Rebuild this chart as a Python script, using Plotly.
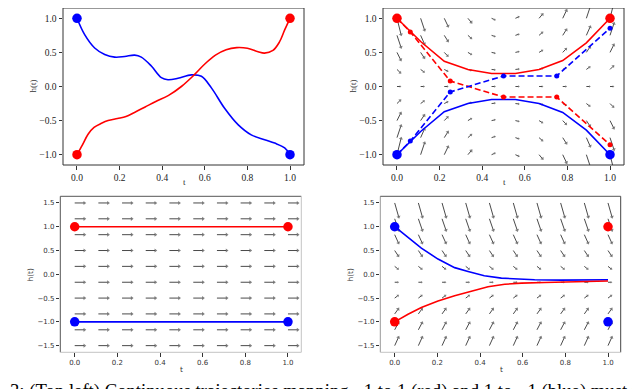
import math
import plotly.graph_objects as go

W, H = 640, 389

# ---------------- data ----------------
# Top left: continuous trajectories
tl_red_t = [0.0, 0.025, 0.052, 0.08, 0.115, 0.146, 0.19, 0.23, 0.27, 0.32, 0.37, 0.43, 0.49,
            0.55, 0.60, 0.65, 0.70, 0.75, 0.80, 0.85, 0.88, 0.92, 0.95, 0.975, 1.0]
tl_red_h = [-1.0, -0.86, -0.70, -0.60, -0.54, -0.50, -0.47, -0.44, -0.38, -0.30, -0.22, -0.13, 0.0,
            0.17, 0.33, 0.46, 0.54, 0.57, 0.56, 0.51, 0.49, 0.53, 0.65, 0.83, 1.0]
tl_blue_t = [0.0, 0.036, 0.083, 0.13, 0.177, 0.224, 0.271, 0.302, 0.349, 0.396, 0.427, 0.474,
             0.537, 0.584, 0.631, 0.693, 0.756, 0.818, 0.881, 0.928, 0.975, 1.0]
tl_blue_h = [1.0, 0.76, 0.565, 0.47, 0.43, 0.44, 0.46, 0.43, 0.30, 0.13, 0.10, 0.12,
             0.17, 0.15, -0.02, -0.32, -0.56, -0.71, -0.78, -0.83, -0.90, -1.0]

# Top right: discretised trajectories + vector field
tr_t = [0.0, 0.111, 0.222, 0.333, 0.444, 0.556, 0.667, 0.778, 0.889, 1.0]
tr_red_solid = [1.0, 0.66, 0.37, 0.25, 0.19, 0.19, 0.25, 0.38, 0.64, 1.0]
tr_blue_solid = [-1.0, -0.66, -0.37, -0.25, -0.19, -0.19, -0.25, -0.38, -0.64, -1.0]
tr_dash_t = [0.0, 0.0625, 0.25, 0.5, 0.75, 1.0]
tr_red_dash = [1.0, 0.80, 0.08, -0.155, -0.155, -0.855]
tr_blue_dash = [-1.0, -0.80, -0.08, 0.155, 0.155, 0.855]
tr_q_t = [0.0, 0.111, 0.222, 0.333, 0.444, 0.556, 0.667, 0.778, 0.889, 1.0]
tr_q_h = [-1.0, -0.75, -0.5, -0.25, 0.0, 0.25, 0.5, 0.75, 1.0]
tr_q_slope = [-4.0, -3.0, -2.1, -1.2, -0.45, 0.45, 1.2, 2.1, 3.0, 4.0]   # dh/dt per unit h, by column

# Bottom left: constant horizontal field
bl_q_t = [0.0, 0.111, 0.222, 0.333, 0.444, 0.556, 0.667, 0.778, 0.889, 1.0]
bl_q_h = [-1.5, -1.167, -0.833, -0.5, -0.167, 0.167, 0.5, 0.833, 1.167, 1.5]
bl_red_t = [0.0, 1.0]
bl_red_h = [1.0, 1.0]
bl_blue_t = [0.0, 1.0]
bl_blue_h = [-1.0, -1.0]

# Bottom right: converging field
br_q_t = [0.0, 0.111, 0.222, 0.333, 0.444, 0.556, 0.667, 0.778, 0.889, 1.0]
br_q_h = [-1.5, -1.167, -0.833, -0.5, -0.167, 0.167, 0.5, 0.833, 1.167, 1.5]
br_q_v = [2.2, 1.9, 1.4, 0.75, 0.0, -0.8, -1.5, -2.2, -2.9, -3.5]        # dh/dt by row
br_blue_t = [0.0, 0.0625, 0.125, 0.203, 0.281, 0.344, 0.42, 0.5, 0.578, 0.656, 0.78, 0.94, 1.0]
br_blue_h = [1.0, 0.78, 0.55, 0.32, 0.14, 0.06, -0.03, -0.08, -0.10, -0.115, -0.123, -0.123, -0.115]
br_red_t = [0.0, 0.0625, 0.125, 0.203, 0.281, 0.36, 0.4375, 0.516, 0.594, 0.703, 0.86, 1.0]
br_red_h = [-1.0, -0.84, -0.70, -0.56, -0.45, -0.35, -0.26, -0.21, -0.186, -0.172, -0.16, -0.14]

# endpoint markers (t, h)
tl_red_pts = ([0.0, 1.0], [-1.0, 1.0]); tl_blue_pts = ([0.0, 1.0], [1.0, -1.0])
tr_red_pts = ([0.0, 1.0], [1.0, 1.0]); tr_blue_pts = ([0.0, 1.0], [-1.0, -1.0])
bl_red_pts = ([0.0, 1.0], [1.0, 1.0]); bl_blue_pts = ([0.0, 1.0], [-1.0, -1.0])
br_red_pts = ([0.0, 1.0], [-1.0, 1.0]); br_blue_pts = ([0.0, 1.0], [1.0, -1.0])

top_yticks = [-1.0, -0.5, 0.0, 0.5, 1.0]
bot_yticks = [-1.5, -1.0, -0.5, 0.0, 0.5, 1.0, 1.5]
xticks = [0.0, 0.2, 0.4, 0.6, 0.8, 1.0]

RED, BLUE, QC = "#ff0000", "#0000ff", "#4a4a4a"

# ---------------- layout geometry (pixels) ----------------
panels = {
    1: dict(x0=55, x1=296, y0=0, y1=157, xr=[-0.0657, 1.0657], yr=[-1.151, 1.151]),
    2: dict(x0=375, x1=616, y0=0, y1=157, xr=[-0.0657, 1.0657], yr=[-1.151, 1.151]),
    3: dict(x0=52.3, x1=293.3, y0=188.3, y1=344.3, xr=[-0.0675, 1.0625], yr=[-1.64, 1.64]),
    4: dict(x0=372.3, x1=612.7, y0=188.3, y1=344.3, xr=[-0.0675, 1.0595], yr=[-1.64, 1.64]),
}

fig = go.Figure()


def ax(n):
    return ("x" if n == 1 else f"x{n}"), ("y" if n == 1 else f"y{n}")


def quiver(n, ts, hs, uv, k):
    p = panels[n]
    xs = (p["x1"] - p["x0"]) / (p["xr"][1] - p["xr"][0])
    ys = (p["y1"] - p["y0"]) / (p["yr"][1] - p["yr"][0])
    lx, ly, hx, hy, ang, sz = [], [], [], [], [], []
    for i, t in enumerate(ts):
        for j, h in enumerate(hs):
            u, v = uv(i, j, h)
            px, py = k * u, k * v
            L = math.hypot(px, py)
            ex, ey = px / L, py / L
            hl = min(2.2, 0.35 * L)
            lx += [t, t + (px - ex * hl) / xs, None]
            ly += [h, h + (py - ey * hl) / ys, None]
            hx.append(t + (px - ex * 0.5 * hl * 1.6) / xs)
            hy.append(h + (py - ey * 0.5 * hl * 1.6) / ys)
            ang.append(math.degrees(math.atan2(px, py)))
            sz.append(min(3.6, 0.5 * L))
    xa, ya = ax(n)
    fig.add_trace(go.Scatter(x=lx, y=ly, mode="lines", xaxis=xa, yaxis=ya,
                             line=dict(color=QC, width=1), hoverinfo="skip", showlegend=False))
    fig.add_trace(go.Scatter(x=hx, y=hy, mode="markers", xaxis=xa, yaxis=ya,
                             marker=dict(symbol="triangle-up", size=sz, angle=ang, color=QC,
                                         line=dict(width=0)),
                             hoverinfo="skip", showlegend=False))


def line(n, t, h, color, dash="solid", shape="linear", markers=False):
    xa, ya = ax(n)
    fig.add_trace(go.Scatter(x=t, y=h, mode="lines+markers" if markers else "lines",
                             xaxis=xa, yaxis=ya,
                             line=dict(color=color, width=1.6, dash=dash, shape=shape, smoothing=1.0),
                             marker=dict(size=5, color=color),
                             showlegend=False, hoverinfo="skip"))


def dots(n, pts, color):
    xa, ya = ax(n)
    fig.add_trace(go.Scatter(x=pts[0], y=pts[1], mode="markers", xaxis=xa, yaxis=ya,
                             marker=dict(size=9.5, color=color, line=dict(width=0)),
                             showlegend=False, hoverinfo="skip"))


# ---- panel 1 ----
line(1, tl_blue_t, tl_blue_h, BLUE, shape="spline")
line(1, tl_red_t, tl_red_h, RED, shape="spline")
dots(1, tl_red_pts, RED)
dots(1, tl_blue_pts, BLUE)

# ---- panel 2 ----
quiver(2, tr_q_t, tr_q_h, lambda i, j, h: (1.0, tr_q_slope[i] * h), 4.5)
line(2, tr_t, tr_red_solid, RED)
line(2, tr_t, tr_blue_solid, BLUE)
line(2, tr_dash_t, tr_red_dash, RED, dash="6px,3px", markers=True)
line(2, tr_dash_t, tr_blue_dash, BLUE, dash="6px,3px", markers=True)
dots(2, tr_red_pts, RED)
dots(2, tr_blue_pts, BLUE)

# ---- panel 3 ----
quiver(3, bl_q_t, bl_q_h, lambda i, j, h: (1.0, 0.0), 11.5)
line(3, bl_red_t, bl_red_h, RED)
line(3, bl_blue_t, bl_blue_h, BLUE)
dots(3, bl_red_pts, RED)
dots(3, bl_blue_pts, BLUE)

# ---- panel 4 ----
quiver(4, br_q_t, br_q_h, lambda i, j, h: (1.0, br_q_v[j]), 4.5)
line(4, br_blue_t, br_blue_h, BLUE)
line(4, br_red_t, br_red_h, RED)
dots(4, br_red_pts, RED)
dots(4, br_blue_pts, BLUE)

# ---------------- axes ----------------
def fmt(v):
    s = f"{abs(v):.1f}"
    return ("\u2212" + s) if v < 0 else s


layout = dict(width=W, height=H, margin=dict(l=0, r=0, t=0, b=0),
              paper_bgcolor="white", plot_bgcolor="white", showlegend=False)
shapes, annotations = [], []
for n, p in panels.items():
    top = n <= 2
    font = dict(family="Liberation Serif", size=9.5, color="#222") if top else \
        dict(family="DejaVu Sans", size=7, color="#333")
    xd = [p["x0"] / W, p["x1"] / W]
    yd = [1 - p["y1"] / H, 1 - p["y0"] / H]
    xa, ya = ax(n)
    xkey = "xaxis" if n == 1 else f"xaxis{n}"
    ykey = "yaxis" if n == 1 else f"yaxis{n}"
    yt = top_yticks if top else bot_yticks
    common = dict(showgrid=False, zeroline=False, showline=False, ticks="outside", ticklen=3.5,
                  tickwidth=0.8, tickcolor="#333", tickfont=font, fixedrange=True)
    layout[xkey] = dict(domain=xd, range=p["xr"], anchor=ya, tickvals=xticks,
                        ticktext=[fmt(v) for v in xticks], **common)
    layout[ykey] = dict(domain=yd, range=p["yr"], anchor=xa, tickvals=yt,
                        ticktext=[fmt(v) for v in yt], **common)
    # frame sides: left, top, right, bottom
    if top:
        cols = ["#333", "#333", "#333", "#333"]
    elif n == 3:
        cols = ["#555", "#555", "#c4c4c4", "#c4c4c4"]
    else:
        cols = ["#999", "#555", "#444", "#c4c4c4"]
    x0, x1, y0, y1 = xd[0], xd[1], yd[0], yd[1]
    for (a, b, c, d), col in zip([(x0, y0, x0, y1), (x0, y1, x1, y1), (x1, y0, x1, y1), (x0, y0, x1, y0)], cols):
        shapes.append(dict(type="line", xref="paper", yref="paper", x0=a, y0=b, x1=c, y1=d,
                           line=dict(color=col, width=1)))
    # axis titles
    lab_font = dict(family="Liberation Serif" if top else "DejaVu Sans", size=9 if top else 7.5, color="#333")
    cx = (p["x0"] + p["x1"]) / 2
    annotations.append(dict(text="h(t)", xref="paper", yref="paper", x=(p["x0"] - 30) / W,
                            y=1 - ((p["y0"] + p["y1"]) / 2) / H, textangle=-90, showarrow=False,
                            font=lab_font, xanchor="center", yanchor="middle"))
    annotations.append(dict(text="t", xref="paper", yref="paper", x=(cx + 0.5) / W,
                            y=1 - (p["y1"] + 17.5) / H, showarrow=False,
                            font=lab_font, xanchor="center", yanchor="middle"))

annotations.append(dict(
    text="3: (Top left) Continuous trajectories mapping \u22121 to 1 (red) and 1 to \u22121 (blue) must i",
    xref="paper", yref="paper", x=0.0, y=1 - 383 / H, xanchor="left", yanchor="middle",
    showarrow=False, font=dict(family="Liberation Serif", size=18.7, color="black")))

layout["shapes"] = shapes
layout["annotations"] = annotations
fig.update_layout(**layout)
fig.write_html("out.html")
